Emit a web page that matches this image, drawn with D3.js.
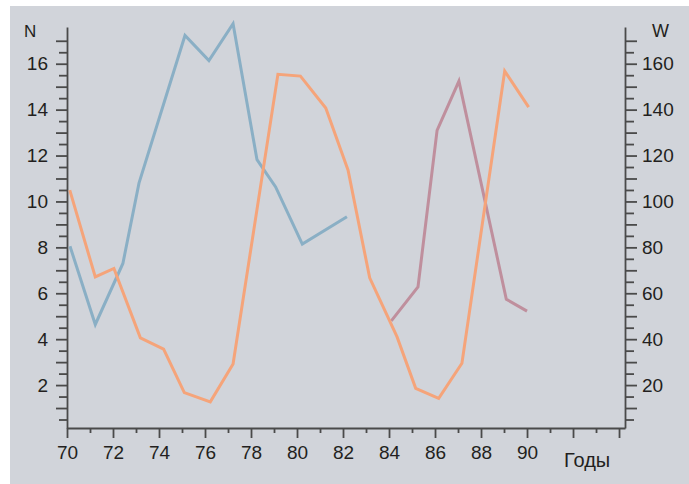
<!DOCTYPE html>
<html>
<head>
<meta charset="utf-8">
<script src="https://cdn.jsdelivr.net/npm/d3@7"></script>
<style>
  html, body { margin: 0; padding: 0; background: #ffffff; }
  svg { display: block; }
  text { font-family: "Liberation Sans", Arial, Helvetica, sans-serif; fill: #231f20; }
</style>
</head>
<body>
<svg id="chart" width="689" height="484"></svg>
<script>
// Годы (with fractional offsets as plotted) and values for each series
const blueYears  = [70.13, 71.23, 72.43, 73.13, 75.13, 76.17, 77.22, 78.26, 79.07, 80.23, 82.17];
const blueN      = [8.05, 4.64, 7.30, 10.80, 17.23, 16.14, 17.74, 11.82, 10.63, 8.14, 9.33];

const orangeYears = [70.12, 71.23, 72.04, 73.19, 74.20, 75.10, 76.23, 77.22, 79.17, 80.15, 81.25, 82.22, 83.16, 84.35, 85.16, 86.16, 87.17, 89.03, 90.07];
const orangeW     = [104.9, 67.1, 70.8, 40.6, 35.7, 16.7, 12.7, 29.2, 155.4, 154.6, 140.7, 113.6, 66.7, 41.0, 18.6, 14.2, 29.5, 156.8, 141.1];

const mauveYears = [84.10, 85.26, 86.09, 87.04, 89.10, 90.00];
const mauveN     = [4.80, 6.28, 13.10, 15.24, 5.74, 5.22];

const xTickLabels = [70, 72, 74, 76, 78, 80, 82, 84, 86, 88, 90];
const nTickLabels = [2, 4, 6, 8, 10, 12, 14, 16];
const wTickLabels = [20, 40, 60, 80, 100, 120, 140, 160];

const svg = d3.select("#chart");

// grey panel
svg.append("rect")
  .attr("x", 10).attr("y", 6).attr("width", 679).attr("height", 478)
  .attr("fill", "#d1d4da");

const plotLeft = 67, plotRight = 625, plotTop = 27, plotBottom = 428;

const x  = d3.scaleLinear().domain([70, 94.26]).range([plotLeft, plotRight]);
const yN = d3.scaleLinear().domain([0.13, 17.6]).range([plotBottom, plotTop]);
const yW = d3.scaleLinear().domain([1.3, 176]).range([plotBottom, plotTop]);

const axisColor = "#4a4a4a";
const fontSize = "19px";

function styleAxis(g) {
  g.selectAll("path.domain").attr("stroke", axisColor).attr("stroke-width", 1.8);
  g.selectAll(".tick line").attr("stroke", axisColor).attr("stroke-width", 1.8);
  g.selectAll(".tick text").style("font-size", fontSize).attr("fill", "#231f20");
}

// ticks every half unit on both vertical axes
const nTicks = d3.range(1, 35).map(i => i / 2);
const wTicks = d3.range(1, 35).map(i => i * 5);
const yearTicks = d3.range(70, 95);

// left axis (N)
const gL = svg.append("g").attr("transform", `translate(${plotLeft},0)`)
  .call(d3.axisLeft(yN).tickValues(nTicks).tickSize(11).tickSizeOuter(0).tickPadding(8)
    .tickFormat(d => nTickLabels.includes(d) ? d : ""));
gL.selectAll(".tick line").attr("x2", d => Number.isInteger(d) ? -11 : -8);
styleAxis(gL);

// right axis (W)
const gR = svg.append("g").attr("transform", `translate(${plotRight},0)`)
  .call(d3.axisRight(yW).tickValues(wTicks).tickSize(12).tickSizeOuter(0).tickPadding(5)
    .tickFormat(d => wTickLabels.includes(d) ? d : ""));
gR.selectAll(".tick line").attr("x2", d => d % 10 === 0 ? 12 : 9);
styleAxis(gR);

// bottom axis (years)
const gB = svg.append("g").attr("transform", `translate(0,${plotBottom})`)
  .call(d3.axisBottom(x).tickValues(yearTicks).tickSize(10).tickSizeOuter(0).tickPadding(8)
    .tickFormat(d => xTickLabels.includes(d) ? d : ""));
gB.selectAll(".tick line").attr("y2", d => d % 2 === 0 ? 10 : 5);
styleAxis(gB);

// axis titles
svg.append("text").attr("x", 24).attr("y", 37).style("font-size", "17px").text("N");
svg.append("text").attr("x", 652).attr("y", 37).style("font-size", "18px").text("W");
svg.append("text").attr("x", 564).attr("y", 467).style("font-size", "20px").text("Годы");

// series lines
function drawLine(xs, ys, yScale, color) {
  const pts = xs.map((d, i) => [d, ys[i]]);
  svg.append("path")
    .datum(pts)
    .attr("fill", "none")
    .attr("stroke", color)
    .attr("stroke-width", 3)
    .attr("stroke-linejoin", "miter")
    .attr("d", d3.line().x(d => x(d[0])).y(d => yScale(d[1])));
}

drawLine(blueYears, blueN, yN, "#8aafc5");
drawLine(mauveYears, mauveN, yN, "#bf8f9d");
drawLine(orangeYears, orangeW, yW, "#f5a47a");
</script>
</body>
</html>
